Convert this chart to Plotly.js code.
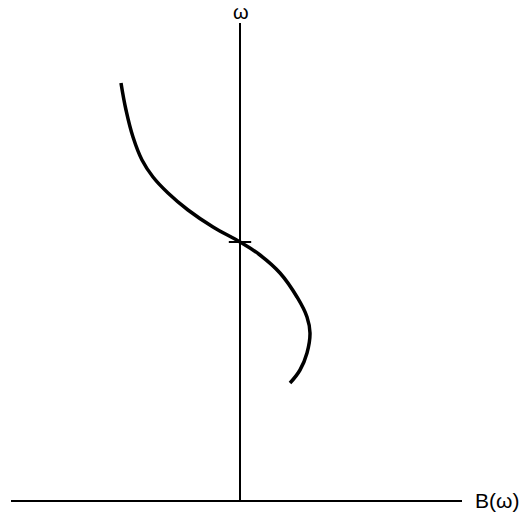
<!DOCTYPE html>
<html>
<head>
<meta charset="utf-8">
<script src="https://cdn.plot.ly/plotly-3.0.1.min.js"></script>
<style>
  html, body { margin: 0; padding: 0; background: #fff; }
  #plot1 { width: 528px; height: 512px; }
</style>
</head>
<body>
<div id="plot1"></div>
<script>
// curve B(omega) (arbitrary units)
const b_values = [
    -1.19, -1.14, -1.07, -0.98, -0.87, -0.72, -0.52, -0.27,
    0.00, 0.20, 0.40, 0.57, 0.67, 0.70, 0.67, 0.60, 0.50,
];
const omega_values = [
    4.17, 3.90, 3.63, 3.40, 3.23, 3.07, 2.90, 2.73,
    2.58, 2.45, 2.27, 2.03, 1.83, 1.67, 1.47, 1.30, 1.17,
];

// point where the curve crosses the omega axis
const cross_b = [0];
const cross_omega = [2.58];

const x_label = 'B(ω)';
const y_label = 'ω';

const curve = {
    x: b_values,
    y: omega_values,
    type: 'scatter',
    mode: 'lines',
    line: {
        color: '#000',
        width: 3.5,
        shape: 'spline',
        smoothing: 1.2,
    },
    hoverinfo: 'skip',
};

const crossing = {
    x: cross_b,
    y: cross_omega,
    type: 'scatter',
    mode: 'markers',
    marker: {
        symbol: 'line-ew',
        size: 16,
        line: { color: '#000', width: 2 },
    },
    hoverinfo: 'skip',
};

const layout = {
    width: 528,
    height: 512,
    margin: { l: 11, r: 66, t: 23, b: 12 },
    paper_bgcolor: '#fff',
    plot_bgcolor: '#fff',
    showlegend: false,
    font: { family: 'Liberation Sans, Arial, sans-serif', color: '#000' },
    xaxis: {
        range: [-2.29, 2.22],
        showgrid: false,
        showticklabels: false,
        ticks: '',
        zeroline: false,
        showline: true,
        linecolor: '#000',
        linewidth: 2,
    },
    yaxis: {
        range: [0, 4.77],
        showgrid: false,
        showticklabels: false,
        ticks: '',
        zeroline: false,
        showline: false,
    },
    shapes: [
        // the omega axis
        {
            type: 'line',
            xref: 'x',
            yref: 'paper',
            x0: 0, x1: 0, y0: 0, y1: 1,
            line: { color: '#000', width: 2 },
        },
    ],
    annotations: [
        {
            text: y_label,
            xref: 'x',
            yref: 'paper',
            x: 0.01,
            y: 1,
            yanchor: 'middle',
            yshift: 11,
            showarrow: false,
            font: { size: 20 },
        },
        {
            text: x_label,
            xref: 'paper',
            yref: 'paper',
            x: 1,
            y: 0,
            xanchor: 'left',
            yanchor: 'middle',
            xshift: 11,
            showarrow: false,
            font: { size: 21 },
        },
    ],
};

Plotly.newPlot('plot1', [curve, crossing], layout, { staticPlot: true, displayModeBar: false });
</script>
</body>
</html>
